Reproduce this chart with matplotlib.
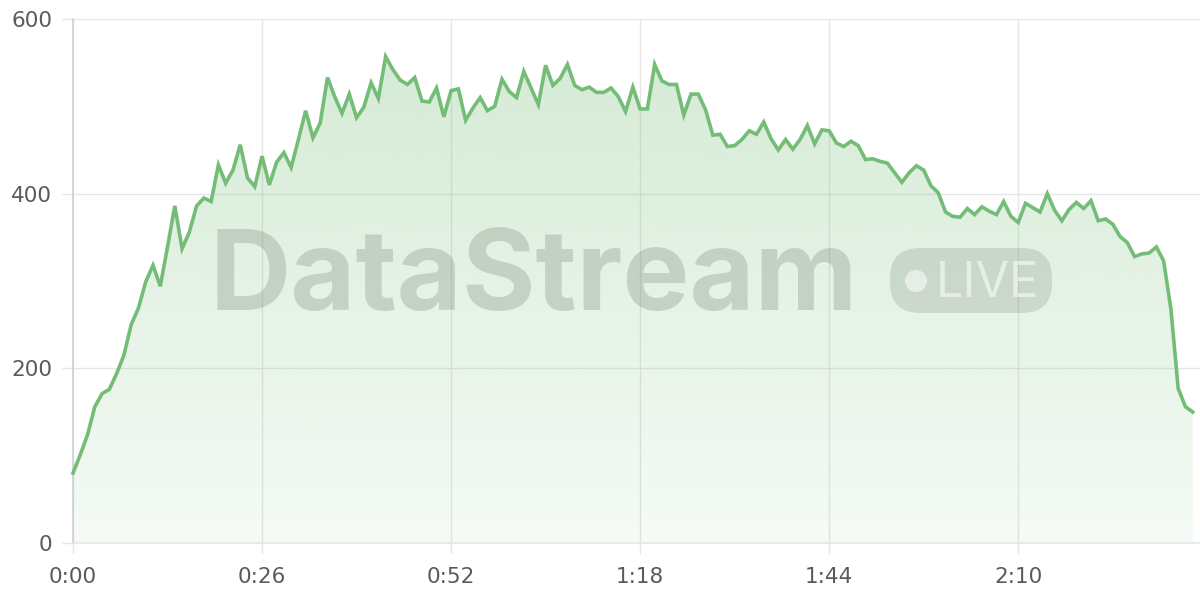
import matplotlib

matplotlib.use("Agg")
import matplotlib.pyplot as plt
import numpy as np
from matplotlib.patches import FancyBboxPatch, Circle, Polygon

# Data (one sample per second)
values = [
    80, 101, 124, 156, 171, 176, 194, 215, 250, 269,
    299, 318, 294, 339, 386, 337, 356, 386, 395, 391,
    433, 412, 427, 456, 418, 408, 443, 410, 436, 447,
    430, 462, 495, 464, 481, 533, 511, 492,
    514, 487, 499, 527, 509, 557, 542, 530, 525, 533,
    506, 505, 521, 488, 518, 520, 484, 498, 510, 495,
    500, 531, 517, 510, 540, 521, 502, 547, 524, 532,
    548, 524, 519, 522, 516, 516, 521, 511, 494,
    522, 497, 497, 548, 529, 525, 525, 490, 514, 514,
    496, 467, 468, 454, 455, 462, 472, 468, 482, 463,
    450, 462, 451, 462, 478, 457, 473, 472, 458, 454,
    460, 455, 439, 440, 437, 435, 424, 413,
    424, 432, 427, 409, 401, 379, 374, 373, 383, 376,
    385, 380, 376, 391, 374, 367, 389, 384, 379, 400,
    381, 369, 382, 390, 383, 392, 369, 371, 365, 351,
    344, 328, 331, 332, 339, 323, 268, 177, 156, 150,
]
seconds = list(range(len(values)))

x_ticks = [0, 26, 52, 78, 104, 130]
x_tick_labels = ["0:00", "0:26", "0:52", "1:18", "1:44", "2:10"]
y_ticks = [0, 200, 400, 600]

LINE_COLOR = "#74bd77"
GRID_COLOR = "#e6e6e6"
TEXT_COLOR = "#5a5a5a"

plt.rcParams["font.family"] = ["DejaVu Sans"]

fig = plt.figure(figsize=(12, 6), dpi=100)
ax = fig.add_axes([73 / 1200, 57 / 600, 1127 / 1200, 524 / 600])
ax.set_xlim(0, 155)
ax.set_ylim(0, 600)

# Gradient fill under the line, clipped to the area polygon
verts = [(seconds[0], 0)] + list(zip(seconds, values)) + [(seconds[-1], 0)]
poly = Polygon(verts, closed=True, facecolor="none", edgecolor="none")
ax.add_patch(poly)
green = np.array(matplotlib.colors.to_rgb(LINE_COLOR))
n = 256
grad = np.zeros((n, 1, 4))
grad[:, 0, :3] = green
grad[:, 0, 3] = np.linspace(0.32, 0.07, n)  # top -> bottom
img = ax.imshow(grad, extent=[0, 155, 0, 600], origin="upper", aspect="auto",
                interpolation="bicubic", zorder=1)
img.set_clip_path(poly)

# Watermark
wm_color = "#6f7f70"
fig.text(210 / 1200, (600 - 310) / 600, "DataStream", fontsize=81, fontweight="bold",
         family=["Inter", "Roboto", "DejaVu Sans"], color=wm_color, alpha=0.28,
         ha="left", va="baseline", zorder=2)
badge = FancyBboxPatch((890 + 30, 600 - 313 + 30), 162 - 60, 65 - 60,
                       boxstyle="round,pad=30", transform=None,
                       facecolor=wm_color, edgecolor="none", alpha=0.22, zorder=2)
fig.patches.append(badge)
fig.patches.append(Circle((916, 600 - 281), 11, transform=None,
                          facecolor="white", edgecolor="none", alpha=0.55, zorder=3))
fig.text(936 / 1200, (600 - 297) / 600, "LIVE", fontsize=35,
         family=["Inter", "Roboto", "DejaVu Sans"], color="white", alpha=0.55,
         ha="left", va="baseline", zorder=3)

# Line
ax.plot(seconds, values, color=LINE_COLOR, linewidth=2.6, solid_joinstyle="miter",
        zorder=4, clip_on=False)

# Axes styling
ax.set_xticks(x_ticks)
ax.set_xticklabels(x_tick_labels)
ax.set_yticks(y_ticks)
ax.grid(True, color=GRID_COLOR, linewidth=1.0, zorder=0)
ax.set_axisbelow(True)
for side in ["top", "right"]:
    ax.spines[side].set_visible(False)
ax.spines["left"].set_color("#cfcfcf")
ax.spines["left"].set_linewidth(1.2)
ax.spines["bottom"].set_color(GRID_COLOR)
ax.spines["bottom"].set_linewidth(1.2)
ax.tick_params(axis="both", length=8, width=1, color=GRID_COLOR, labelsize=15.5,
               labelcolor=TEXT_COLOR)
ax.tick_params(axis="y", pad=7)
ax.tick_params(axis="x", pad=9)

fig.savefig("out.png", dpi=100)
